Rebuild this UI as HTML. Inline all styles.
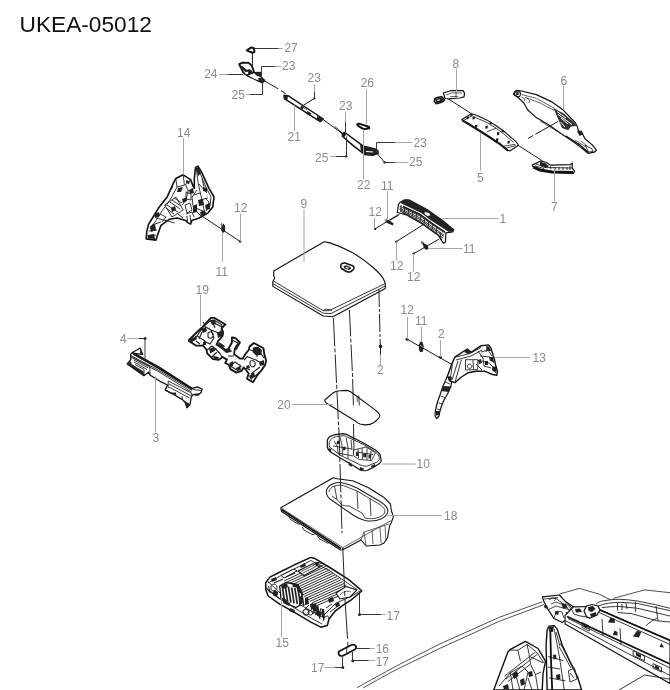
<!DOCTYPE html>
<html><head><meta charset="utf-8">
<style>
html,body{margin:0;padding:0;background:#fff;width:670px;height:690px;overflow:hidden}
svg{display:block;position:absolute;left:0;top:0;will-change:transform}
text{font-family:"Liberation Sans",sans-serif}
.t{font-size:12px;fill:#8a8a8a}
.ttl{font-size:22.7px;fill:#111}
.l{stroke:#a6a6a6;stroke-width:1;fill:none}
.k{stroke:#1a1a1a;stroke-width:1;fill:none}
.p{stroke:#111;stroke-width:1.3;fill:#fff;stroke-linejoin:round}
.q{stroke:#222;stroke-width:0.7;fill:none}
.f{fill:#222;stroke:none}
.dot{fill:#222}
</style></head><body>
<svg width="670" height="690" viewBox="0 0 670 690">
<text class="ttl" x="19.5" y="31.6">UKEA-05012</text>

<!-- ===== LABELS ===== -->
<g class="t">
<text x="284.4" y="52.1">27</text>
<text x="282" y="70.4">23</text>
<text x="204.2" y="78.4">24</text>
<text x="231.6" y="98.5">25</text>
<text x="307.5" y="82.1">23</text>
<text x="287.5" y="140.5">21</text>
<text x="360.7" y="86.9">26</text>
<text x="339" y="109.6">23</text>
<text x="315" y="161.5">25</text>
<text x="357" y="188.8">22</text>
<text x="413.5" y="146.6">23</text>
<text x="409" y="166.3">25</text>
<text x="381" y="189.8">11</text>
<text x="452.5" y="67.5">8</text>
<text x="560.4" y="84.6">6</text>
<text x="477" y="182">5</text>
<text x="551" y="210.5">7</text>
<text x="499.5" y="223.3">1</text>
<text x="368.5" y="215.8">12</text>
<text x="390" y="269.8">12</text>
<text x="407" y="280.8">12</text>
<text x="463" y="253.3">11</text>
<text x="177.1" y="136.6">14</text>
<text x="234" y="211.9">12</text>
<text x="215.5" y="275.5">11</text>
<text x="300.5" y="208.3">9</text>
<text x="195.5" y="294">19</text>
<text x="120" y="342.5">4</text>
<text x="152.5" y="441.8">3</text>
<text x="377" y="374.2">2</text>
<text x="277.3" y="409.3">20</text>
<text x="400.5" y="314.2">12</text>
<text x="415" y="325.2">11</text>
<text x="438" y="338">2</text>
<text x="532.5" y="362.2">13</text>
<text x="416.5" y="468">10</text>
<text x="444" y="520.1">18</text>
<text x="275.5" y="646.6">15</text>
<text x="386.5" y="619.8">17</text>
<text x="375.7" y="653.2">16</text>
<text x="375.7" y="666.4">17</text>
<text x="311" y="672.1">17</text>
</g>




<!-- ===== TOP CABLE ASSEMBLY (27,24,23,25,21,26,22) ===== -->
<g>
<!-- 27 cap -->
<path style="fill:#fff;stroke:#111;stroke-width:2;stroke-linejoin:round" d="M246.8 50.3 L251 47.5 L254 48.3 L254.4 51.8 L252.6 52.8 L249 51.4Z"/>
<path class="k" d="M252.4 53V67"/>
<!-- 24 bracket -->
<path style="fill:#fff;stroke:#111;stroke-width:1.8;stroke-linejoin:round" d="M239.2 64.1 L242.6 62.6 L248.7 62.8 L251.2 65.1 L252.8 68.2 L253.8 71.2 L253.3 73.2 L249.2 75.3 L245.1 74.2 L243.1 72.2 L241.1 68.2Z"/>
<path class="f" d="M240.5 65 L243 66.5 L247 70 L249 69 L252 70.5 L252.5 73 L249 74.5 L246 72.5 L243 70Z"/>
<path style="fill:#fff;stroke:none" d="M244.2 64.8 L247.5 64.6 L247.7 66.8 L244.5 67Z M245.2 72 L248 71.8 L248.2 74 L245.5 74.2Z"/>
<path style="fill:#fff;stroke:#111;stroke-width:1.3;stroke-linejoin:round" d="M246.2 75.3 L249 74.3 L253.8 72.7 L260.4 72.3 L261.6 77.5 L264.5 80.5 L262.4 82.9Z"/>
<path class="f" d="M253.8 72.7 L260.4 72.3 L261.4 77.3 L257 76Z M258 78 L262 77.5 L265.5 80.5 L262.5 83 L259 81Z"/>
<path style="stroke:#fff;stroke-width:1.3;fill:none" d="M250.5 76 L257 79.2"/>
<!-- cable -->
<path class="k" d="M262 79.5 L278.3 88.9 M281 90.6 L285.5 93.5"/>
<!-- 21 bar -->
<path class="p" style="stroke-width:1.4" d="M284 95.3 L288 95.7 L323.3 119 L320.2 121.7 L287.5 100.7 L284.4 98.9Z"/>
<path class="f" d="M284 95.3 L288 95.7 L287.3 100.5 L284.4 98.9Z"/>
<path class="f" d="M317.5 115.8 L323.3 119 L320.2 121.7 L316.5 119.3Z"/>
<path class="f" d="M301.5 105.5 L304 107.2 L302.5 109.5 L300 108Z M307.5 111 L311.5 113.5 L310 116 L306 113.5Z"/>
<path class="q" d="M303 107.5 L307 110"/>
<path class="k" d="M323 119.5 L342.2 133.4"/>
<path class="k" d="M314.5 98.4 L303.6 105.1"/>
<circle class="dot" cx="314.4" cy="98.4" r="1.1"/>
<!-- 26 -->
<path style="fill:#fff;stroke:#111;stroke-width:2;stroke-linejoin:round" d="M357.2 124.4 L358.9 123.6 L368.8 126.7 L369.2 128.3 L363.6 129.2 L358.5 126.2Z"/>

<!-- 22 bar -->
<path class="p" style="stroke-width:1.5" d="M342.2 133.4 L344.8 132.5 L363.6 146.3 L375.3 149 L378 150.8 L378 153.5 L372.6 155.3 L364.5 154.4 L361 151.7 L352.9 145.4 L342.6 136.5Z"/>
<path class="f" d="M342.2 133.4 L344.8 132.5 L346.5 134 L344 137.5 L342.6 136.5Z"/>
<path class="f" d="M360 145 L366 147 L376 149.5 L378 153.5 L372.6 155.3 L364.5 154.4 L361 151.7Z"/>
<path class="q" d="M368 151 L374 151.5"/>
<path style="stroke:#fff;stroke-width:1.2;fill:none" d="M366 151.5 L373 152"/>


<circle class="dot" cx="346.2" cy="156.2" r="1.2"/>

<path class="k" d="M377 153.5 L384.7 162.5"/>
<circle class="dot" cx="384.7" cy="162.4" r="1.2"/>
<path class="k" d="M335 126.6 L342.2 133.4"/>
</g>


<!-- ===== PARTS 8,5,7,6 ===== -->
<g>
<!-- 8 -->
<path class="p" style="stroke-width:1.2" d="M443.4 93 L450.6 90.7 L463.1 90.6 L464.6 93.4 L464 96.8 L459.5 98 L448.8 98.9 L445 98.5Z"/>
<path class="q" d="M446 95 L452 92.8 L462 93 M450 96.5 L458 96.5 M456 92 V97"/>
<path class="p" style="stroke-width:1.5" d="M434.5 98.8 L437.2 97.4 L441.8 96.8 L444.5 99.8 L443.5 101.2 L440.7 102.5 L436.3 103.8 L434.5 101.6Z"/>
<path class="f" d="M435 99 L441 97.5 L444 100 L440 102.4 L436.5 103.5Z"/>
<path style="stroke:#fff;stroke-width:1;fill:none" d="M437 100.3 L440 99.8"/>
<path class="k" d="M448.8 99.2 L471.6 113.8"/>
<!-- 5 -->
<path class="p" style="stroke-width:1.1" d="M461.8 119.5 L471.4 113.7 L477.1 115.6 L486.7 119.9 L496.2 125.7 L505.8 132.8 L512.4 138.6 L515.3 141 L518.2 144.3 L517.2 146.2 L509.6 151 L507.7 150 L501 144.3 L486.7 134.7 L472.3 125.7Z"/>
<path style="stroke:#111;stroke-width:1.9;fill:none" d="M462 120.3 L472.3 126.5 L486.7 135.5 L501 145 L508 150.8"/>
<path class="q" style="stroke-width:0.85" d="M473.3 116.6 L486 122 L496 128 L505 135 L513.4 142.4 M463.7 120.4 L472.3 115.6 M486.7 131.9 L496.2 128.1 M503.8 146.2 L515.3 144.3 M505 148.5 L516 145.5"/>
<path class="f" d="M472.5 116.5 L475 116.8 L474.5 119.5 L472.5 119.3Z M475 125 L477.5 124.8 L477 127.8 L475 127.6Z M485.3 126 L488 125.5 L487.5 128.5 L485.5 128.8Z M497 132.3 L499.5 132 L499 135 L497 135.2Z M496 138.5 L498.5 138.2 L498 141.2 L496 141.3Z M507.5 141 L510 140.7 L509.5 143.5 L507.5 143.8Z M470.5 114 L473 113.8 L472.5 116 L470.5 116.2Z M466.5 117 L469 116.5 L468.5 119 L466.5 119.2Z M490 121.5 L492 122.5 L491.5 124.5 L489.5 124Z M502 129.5 L504 130.5 L503.5 132.5 L501.5 132Z"/>
<path class="k" d="M518 145.2 L541.6 160.4"/>
<!-- 7 -->
<path class="p" style="stroke-width:1.2" d="M532.2 165.1 L541.1 160.9 L546.3 162.5 L550.5 165.1 L570.4 164.6 L572.5 163 L572 167.7 L574.6 171.3 L573.5 173.4 L551.6 172 L539 169.4 L532.8 166.6Z"/>
<path style="stroke:#111;stroke-width:3;fill:none" d="M533.5 167.2 L540 170 L552 172 L573 172.5"/>
<path class="q" style="stroke-width:0.9" d="M536 164 L545 167.5 L572 168 M541 162 L547 167.5 M544 163 L548 167 M535 166 L544 168.5 M555 167 V170 M559 167 V170 M563 167 V170 M567 167 V170 M570 166 V170 M550 166 L551 169"/>
<path class="f" d="M540 162 L545 163 L549 166 L546 167.5 L540 165.5Z"/>
<!-- 6 -->
<path class="p" style="stroke-width:1.2" d="M513.4 94.1 L516.5 90.4 L521.7 91 L536.3 94.6 L552 101.9 L563.5 110.3 L575.5 123 L577.6 127.2 L578.7 132.4 L582.8 134.5 L585 138.7 L592.2 144.9 L596.4 150.2 L594.3 152.2 L588 153.3 L581.8 148 L573.4 141.8 L560.9 133.4 L548.9 124.9 L536.3 117.6 L528 110.3 L523.8 103 L519.6 98.8Z"/>
<path class="q" d="M521.7 94.6 L536.3 98.3 L554.1 108.2 L570 120 M524.9 97.2 L540 103 L554.1 110.3 M560.9 133.4 L540 121"/>
<path style="fill:none;stroke:#111;stroke-width:1.2" d="M514 93.5 C514.5 91.5 516.5 90.5 518.5 91 C520.5 91.8 521 94 520 95.8 C518.5 97.5 515.5 97 514 93.5Z"/>
<path class="f" d="M515.5 92.5 L518.5 92 L519 94.5 L516.5 95.5Z"/>
<path class="q" d="M521.5 97 L525 99 L524 101.5 M527 98 L530 101 L528.5 103"/>
<path class="f" d="M553.6 108.4 L563 113 L574 122.5 L576.6 126.1 L571 126.5 L568.2 130.3 L562 128 L559 121 L556 114Z" style="fill:#333"/>
<path style="stroke:#fff;stroke-width:1;fill:none" d="M558 114.5 L572 124.5 M560.5 122 L565 127 M557 111.5 L566 118 M561 118 L568 124"/>
<path class="f" d="M577 131 L581.5 130.5 L583.5 134 L579.5 136Z"/>
<path class="q" d="M575 140 L590 149.5 M581 141 L587 146"/>
<path style="stroke:#111;stroke-width:1.3;fill:none" d="M566 136 L580 145 L588.5 152.5"/>
<path style="fill:#fff;stroke:#111;stroke-width:0.8" d="M585 145 L592 149 L593 151.5 L588.5 152 Z"/>
<path class="k" d="M528 138.5 L533.2 135.4 M535.3 134.3 L558.3 121.3"/>

</g>


<!-- ===== PART 1 + clips ===== -->
<g>
<path class="p" style="stroke-width:1.2" d="M399.9 202.5 L404.6 199.9 L408.8 199.9 L426.6 209.3 L442.2 220.3 L453.7 229.7 L452.7 231.8 L445.9 232.8 L445.4 242.2 L443.3 243.3 L438 235 L422.4 224 L405.7 214.6 L397.3 212.5 L398.4 204.6Z"/>
<path class="f" d="M399.9 202.5 L404.6 199.9 L408.8 199.9 L426.6 209.3 L442.2 220.3 L453.7 229.7 L452.7 231.8 L448.5 231.8 L430.8 220.3 L421.3 213 L403.6 204.6Z"/>
<path style="fill:#fff;stroke:#111;stroke-width:0.7" d="M424.5 211.5 L429 212.5 L431 215.5 L427.5 216.5 L424 214Z"/>
<path class="q" style="stroke-width:0.9" d="M400 206.5 L420 216 L437 228 L445 233 M399.5 208 L419 217.5 L436 229.5 L444 235 M399.5 209.5 L419 219 L436 231 L444 236.5 M400 211 L418 220.5 L434 232.5 L443 238 M403 212.5 L421 222 L437 233.5 L442 240 M401 205 V211.5 M440 232 L441 240 M405 207 L404 213 M409 209 L408 215 M413 211 L412 217 M417 213 L416 219 M421 215 L420 221 M425 218 L424 224 M429 221 L428 227 M433 224 L432 230 M437 227 L436 233"/>
<path style="stroke:#111;stroke-width:1.5;fill:none" d="M403 206.5 L420 214.5 L433 224 L445 232"/>
<path class="k" d="M390 220.3 L399.4 214.6"/>
<!-- clip 11 upper -->
<path style="fill:#999;stroke:none" d="M384.7 219 L387.7 218.7 L387.8 222.5 L384.9 223Z"/>
<path class="f" d="M386 220.8 L388.5 219.8 L393.6 223.6 L393 225.6 L387.5 223.2Z"/>
<path class="k" d="M375.1 228.9 L398.4 214.6"/>
<circle class="dot" cx="375.1" cy="228.9" r="1.2"/>
<!-- 12 middle -->
<path class="k" d="M396.3 241.7 L423.4 224.5"/>
<circle class="dot" cx="396.3" cy="241.7" r="1.2"/>
<!-- clip 11 lower -->
<path class="f" d="M420.8 242.3 L422.8 241.4 L424.6 243.8 L427.8 245.2 L428.6 248.8 L426.5 250 L424 248.3 L423 245Z"/>
<path style="fill:#888;stroke:none" d="M420.5 241.5 L422.5 240.8 L423.5 243 L421.5 243.8Z"/>
<path class="k" d="M413.7 253.6 L439.1 239.1"/>
<circle class="dot" cx="413.7" cy="253.6" r="1.2"/>
</g>


<!-- ===== PART 14 ===== -->
<g>
<path class="p" style="stroke-width:1.6" d="M175.8 178.5 L183.2 174.8 L190.6 179.7 L193 185.9 L194.3 188.4 L194.3 178.5 L195.5 167.4 L198 166.2 L201.7 172.3 L209 188.4 L214 197 L212.8 206.9 L207.8 213 L199.2 218 L191.8 220.4 L190.6 224.1 L188.1 222.9 L185.6 220.4 L177 218 L169.6 219.2 L161 225.3 L157.9 234 L156 240.1 L146.2 238.9 L146.8 231.5 L148.6 224.1 L151.7 219.2 L158.5 208.1 L167.1 197 L173.3 183.4Z"/>
<g class="q" style="stroke-width:0.9">
<path d="M175.8 178.5 L177 187.1 L185.6 184.7 L190.6 179.7 M183.2 174.8 L184.4 184.7 M185.6 184.7 L188.1 190.8 L193 190 M177 187.1 L169.6 200.7 L162.2 210.6 L156 220.4 L150 229 M173 186 L166 199 M188 191 L186 200 L182 205"/>
<path d="M164.7 205 L176 197 L183.2 210 L172 217 Z M167 205 L178 212 M170 202 L180 209 M172 200 L181 206 M174 198 L182 203 M166 208 L174 214"/>
<path d="M156 218 L174.5 222.9 M152 225 L161 222 M149 231 L157 230 M150 236 L156 235 M160 214 L166 217 L162 222"/>
<path d="M196.3 168 L198 182.4 L201.5 198 L204.1 210.2 M198.5 169 L205 185 L211 197 L210 206 L206 211 M199 184 L207 193 M197 190 L192 197 L193 206 L197 212 L201 216 M205 198 L209 202 L207 209 M202 178 L204 187 M194 195 L200 193 M200 200 L208 198 M196 208 L205 212"/>
<path d="M186 192 L191 194 L191 200 L186 199 Z M185 205 L190 203 L192 210 L187 213Z M186 214 L192 212 L194 217 M190 215 L191 223 M187 216 L187.5 222 M178 214 L183 218"/>
</g>
<path class="f" d="M196 168 L198.5 167 L201 173 L198 176Z M150 226 L155 224 L156 230 L151 232Z M147.5 235 L154 234 L155 239 L148 238.5Z M182 199 L186.5 197.5 L187 201 L183 203Z M198 200 L203 199 L204 205 L199 206Z M193 206 L197 204 L197 212 L193 213Z M186 180 L190 181.5 L189 184 L186 183Z M171 208 L175 206 L176 210 L172 212Z M205 205 L210 203 L210 209 L206 210Z M189 190 L193 188 L194 193 L190 194Z M154 214 L159 212 L160 216 L155 218Z M178 188 L183 187 L181 192 L177 192Z M200 212 L205 210 L206 214 L201 216Z M203 187 L207 188 L207 192 L203 191Z"/>
<path class="k" d="M202.9 216.7 L240.2 241.5"/>
<circle class="dot" cx="240.2" cy="241.5" r="1.2"/>
<path class="f" d="M221.4 226 L223.5 223.6 L225.1 226 L225 231.5 L223 233 L221.4 231Z"/>
<path style="fill:#777;stroke:none" d="M220.5 224 L222 222.5 L222.5 226 L221 227Z"/>
</g>


<!-- ===== PART 9 LID + vertical lines ===== -->
<g>
<path class="p" style="stroke-width:1.1" d="M273.7 270.9 L324.2 241.8 L329 242.6 C337 245 345 248.5 352.3 252.5 C360 257 367 262 373.7 268 C378 272 381.5 275.5 383.4 278.7 L385.3 283.5 L385.3 288.4 L332.9 316.8 L323.2 316 L272.8 286.4 L272.8 281.6 L274.8 278 L273.7 275.7Z"/>
<path class="q" style="stroke-width:0.9" d="M273.5 281 L323.2 310.7 L329 310.7 L385.3 283.5 M272.8 283.5 L323.2 313.2 L331 313.5 L385.3 286"/>
<path class="q" style="stroke-width:0.8" d="M323.2 310.7 L325 309.3 L330 309.5 L332 311"/>
<path class="p" style="stroke-width:1.5" d="M340.8 265.5 C341 263.5 343 262.8 345 263 L352.5 265.8 C354.5 266.7 354.5 268.5 353 269.8 L350.5 271.8 C349 272.3 347.5 272 346.5 271.5 L341.5 268.5 C340.5 267.5 340.5 266.5 340.8 265.5Z"/>
<path class="f" d="M343.5 267 C344 265.5 346 265.3 347.5 265.8 L350.5 267.2 C351.5 267.8 351 269 349.8 269.6 L348.5 270 L344.5 268.5Z"/>
<path style="fill:#fff;stroke:none" d="M346 266.8 L349 267.8 L348 268.7 L345.5 267.8Z"/>
</g>
<!-- ===== PART 20 ===== -->
<g>
<path class="p" style="stroke-width:1.1;fill:none" d="M327 403.5 C324 401.5 324 400 326.5 398.5 L333 393 C335 391.5 337 390.8 340 390.8 L346.4 390.4 C348 390.5 349.5 391 351 392 L374.8 409.6 L378.5 413 C380.5 415 380 417.5 377.5 419.5 L374 422.5 C371 424.5 368 425 364.7 424.9 L360 424 C358 423.5 357 422.5 356.5 421.8 Z"/>
<path class="k" style="stroke-width:0.9" d="M358.8 395.5 L359.3 405.5"/>
<path class="k" style="stroke-width:0.7" d="M357 397 L357.4 402"/>
</g>
<!-- ===== PART 10 ===== -->
<g>
<path class="p" style="stroke-width:1.2" d="M327.3 440.4 C328 437 331 435.5 335.4 434.7 L343 433.7 C346 434 348 435 349.7 436.1 L362.1 442.3 L375.5 450 C378 452 380 454 380.3 455.7 L381.2 460.5 C381 462 380 463.5 378.4 464.3 L371.7 468.1 L366.9 470.5 C364 471 362 470.8 360.2 470 L354.5 466.2 L341.1 458.6 L330.6 451.9 C328 450 327.3 448 327.3 446.1Z"/>
<path class="q" style="stroke-width:0.9" d="M329.6 441.4 C330.5 439 333 437.3 336.3 436.6 L344 435.6 L363 444.2 L375.5 451.9 C378 454 379.3 456 379.3 458.6 C379 460.5 378 461.5 376.4 462.4 L366.9 466.2 C363 466 361 465.3 359.2 464.3 L341.1 455.7 L329.6 447.1 C329 445 329 443 329.6 441.4Z"/>
<path class="q" style="stroke-width:0.85" d="M353.5 450 L366 447 L375.5 452.8 L371.7 460.5 L359.2 459.5 L353.5 455.7 Z M358 449 L358.5 458 M362 448 L362.5 459 M367 448.5 L367 460 M371 451 L370.5 460 M356 452 L373 454.5 M334 441 L337.5 447 L338 453 M340 437 L342 445 L342.5 456 M346 438 L348 447 L348 459 M351 440 L352 450 M333 446 L352 449 M338 453 L353 456"/>
<path class="f" d="M329 448 L331.5 449.5 L331 451.5 L328.5 450Z M349 462 L352 464 L351.5 467 L348.5 465Z M360 467 L364 468.5 L363 471 L360 470Z M371 466 L375 464 L375.5 467 L372 468.5Z M337 441 L339.5 440.5 L339 444 L336.5 444.5Z M343 447 L345.5 446.5 L345.5 450 L343 450.5Z M363 454 L366 453 L366.5 457 L363.5 457.5Z M368.5 455 L371 454.5 L371 458 L368.5 458.5Z M356 452.5 L358.5 452 L358.5 456 L356 456Z"/>
</g>


<!-- ===== PART 18 ===== -->
<g>
<path class="p" style="stroke-width:1.1" d="M280.8 507.8 L333.2 477.8 L337.1 478.7 L352.6 480.7 L368.1 487.5 L383.7 497.2 L390.4 504 L391.4 510.7 L393.4 516.6 L391.4 522.4 L389.5 526.3 L387.5 537.9 L384 543 L379.8 545 L366.2 546 L361 540 L342.9 549.8 L340.5 550 L281.5 511.5Z"/>
<path class="q" d="M280.8 507.8 L342.9 547.6 L391.4 520.4 M342.9 547.6 V550"/>
<path style="stroke:#111;stroke-width:1.6;fill:none" d="M281.5 509.5 L341 548.5"/>
<path class="q" style="stroke-width:0.9" d="M289 517 L290.5 519.5 L298 524 L300 524 M302 527 L304 530 L312 534.5 L314.5 534.5 M317.5 536 L319 538.5 L327 543 L329 543"/>
<path class="q" style="stroke-width:1.1" d="M326.4 492 C326 489 329 485.5 333 483.8 C336 482.6 339 482.3 342 482.8 C347 483.7 352 485.5 357 488 L380 501.5 C385 504.5 388 508 387.8 511.5 C387.5 514.5 385 517 381 519 C377 520.8 371 521.5 365 520.5 C361 519.5 357 517.5 353 515 L330 499 C327.5 497 326.5 494.5 326.4 492Z"/>
<path class="q" style="stroke-width:0.85" d="M329 492 C329 489.5 331.5 487 334.5 486 C337.5 485 341 485 344 485.8 L357 491 L379 504 C383 506.5 385 509 384.8 511.5 C384.5 514 382 516 378.5 517.5 C374 519 369 519 365 518 M332 496 L337 499.5 L341 504 C343 506 346 506 349 506 L362 513 L365 518 M334.5 486 L337 499.5 M357 491 L358 509 M370 498 L371 516"/>
<path class="q" d="M361 540 L364 532 L389 524 M364 532 L366 545 M372 530 L373 544 M380 527 L381 543 M385 526 L386 541"/>
</g>


<!-- ===== PART 15 ===== -->
<g>
<path class="p" style="stroke-width:1.5" d="M265.7 582.8 L269.9 577.1 L278 573 L294.5 564.8 L310.9 557.4 L314.2 558.2 L330.6 568 L348.7 579.6 L358.5 587.8 L361.8 591 L352 599.3 L342.1 605.8 L335.5 610.8 L329 619 L327.3 625.5 L320.8 627.2 L310.9 622.2 L294.5 612.4 L279.7 604.2 L268.2 596 L265.7 589.4Z"/>
<path class="q" style="stroke-width:0.9" d="M268 583 L279 576.5 L296 568 L311 560.5 L330 571 L357 589.5 M267.5 590 L280 599 L310 617.5 L322 624 M268 581.5 L281 594 L322 617 L327 612 L336 603 L352 596 L360 591"/>
<path class="q" style="stroke-width:0.95" d="M284.0 581.0 L322.0 563.0 M286.0 582.6 L323.9 564.7 M288.0 584.1 L325.8 566.4 M290.0 585.7 L327.6 568.1 M292.0 587.2 L329.5 569.8 M294.0 588.8 L331.4 571.4 M296.0 590.4 L333.2 573.1 M298.0 591.9 L335.1 574.8 M300.0 593.5 L337.0 576.5 M302.0 595.1 L338.9 578.2 M304.0 596.6 L340.8 579.9 M306.0 598.2 L342.6 581.6 M308.0 599.8 L344.5 583.2 M310.0 601.3 L346.4 584.9 M312.0 602.9 L348.2 586.6 M314.0 604.4 L350.1 588.3 M316.0 606.0 L352.0 590.0"/>
<path style="fill:#fff;stroke:#111;stroke-width:1.1" d="M336 593 L346 586.5 L357 590 L350 597 L340 599Z"/>
<path class="q" d="M340 595 C342 592 347 590 351 592"/>
<path style="fill:#fff;stroke:#111;stroke-width:1.1" d="M298 571 L313 563.5 L320 567 L304 575.5Z"/>
<path class="q" style="stroke-width:0.8" d="M301 571.5 L314 565 M303 573 L317 566"/>
<path style="fill:#fff;stroke:#111;stroke-width:1" d="M281 575.5 L294 569 L297 571 L284 578Z"/>
<path style="fill:#fff;stroke:#111;stroke-width:1.3" d="M279.7 586 L286 582.5 L298 584.5 L302.7 595 L300 605 L296 607.5 L287 603.5 L281 599Z"/>
<path class="q" style="stroke-width:1.7" d="M282.0 585.0 L284.5 601.0 M285.2 585.8 L287.7 601.8 M288.4 586.6 L290.9 602.6 M291.6 587.4 L294.1 603.4 M294.8 588.2 L297.3 604.2 M298.0 589.0 L300.5 605.0 M301.2 589.8 L303.7 605.8"/>
<path class="f" d="M281 597 L287 600 L286 603.5 L281 600Z M296 586 L301 588 L302 594 L298 592Z"/>
<path class="q" style="stroke-width:1" d="M271 585.5 C273 583 277 584 277 587.5 C277 591 273 592 271 589.5Z M268.5 586 L270 593 M305 609 L309 605 M313 614 L316 606 L318 606 L316 615 M319 615 L321 608 M323 621 C324 616 329 614 329 619 M308 612 C310 609 313 611 312.5 614 C311 616 308 615 308 612Z M326 608 L332 604 M330 612 L338 606"/>
<path class="f" d="M271 579 L276 577 L277 580 L272 582Z M300 566 L305 563 L306 566 L301 568Z M314 562 L320 562 L317 566Z M305 598 L308 597 L309 604 L305 605Z M313 604 L316 603 L317 611 L313 611Z M328 599 L333 597 L334 601 L329 603Z M335 604 L339 602 L340 606 L336 607Z M274 590 L278 592 L277 596 L273 594Z M290 608 L295 610 L294 613 L289 611Z M318 611 L322 612 L321 617 L317 616Z"/>
<path class="f" d="M282 585 L287 583 L288 587 L283 589Z M292 583.5 L298 584.5 L299 588 L293 587Z M299 597 L302 596 L302 604 L299 605Z M284 600 L290 603 L289 606 L283 603Z"/>
<path class="q" style="stroke-width:1.1" d="M266 588 L280 599 M303 611 C305 608 309 609 309 612.5 C308.5 616 304 616 303 612Z M318 612 L320 619 M322 613 L324 620 M314 608 L316 615 M274 583 L283 579 M286 577 L295 573 M273 593 C274 590.5 277.5 591 277.5 594 C277 596.5 273.5 596.5 273 593.5Z"/>
<path class="f" d="M316 607 L318.5 606.5 L320 615 L317.5 615.5Z M321.5 609 L324 609 L325 618 L322.5 618Z M310 604 L313 603 L314 609 L311 610Z"/>
<circle class="dot" cx="359.5" cy="614.5" r="1.5"/>
</g>
<!-- vertical center lines lower -->


<!-- ===== PART 16 ===== -->
<g>
<path style="fill:none;stroke:#111;stroke-width:1.7;stroke-linejoin:round" d="M339.3 651.2 L350.8 645.2 C352.8 644.3 354.8 644.6 355.8 646 C356.6 647.2 356.2 648.5 354.8 649.5 L343.6 655.4 C341.6 656.3 339.8 656 339 654.8 C338.3 653.6 338.5 652 339.3 651.2Z"/>
<path class="k" style="stroke-width:0.8" d="M347 646.5 L346.5 653"/>

<circle class="dot" cx="342.8" cy="667.4" r="1.5"/>
<circle class="dot" cx="352.8" cy="660.7" r="1.5"/>
</g>


<!-- ===== PART 19 ===== -->
<g>
<path class="p" style="stroke-width:1.8" d="M188.9 340 L201.4 328 L210.9 317.9 L214.5 317.9 L225.4 324.4 L223.2 326.6 L221.7 328.8 L223.2 332.4 L222.5 336 L218.1 341.1 L216.7 344.7 L219.6 346.2 L225.4 349.8 L228.3 349.1 L231.9 342.5 L231.9 337.5 L235.5 338.2 L239.9 342.5 L237.7 346.2 L234.8 349.1 L234.1 354.1 L239.9 358.5 L242.6 358.7 L245.2 354.3 L248.7 350 L249.6 346.5 L253.9 343 L263.5 348.3 L264.3 354.3 L266.1 360.4 L265.2 364.8 L261.7 370 L257.4 375.2 L253 382.2 L247 378.7 L248.7 373.5 L245.2 369 L243.5 367.4 L241.7 370.9 L236.5 372.6 L230.4 369.1 L229 365 L225.2 363 L227 359.6 L222.5 357 L218.8 359.9 L213 359.2 L207.2 353.4 L206.5 349.8 L203.3 345.7 L196.3 345.7 L188.9 340.9Z"/>
<g class="q" style="stroke-width:1.1">
<path d="M191 340 L197 336 L205 341 L203 345 M197 336 L204 326 L210 321 L222 327 M204 326 L211 330 L214 338 L210 344 L206 342 M211 330 L219 333 L221 331 M214 320 L222 325 L221 331 M208 333 C210 331 214 332 213 336 C212 339 208 339 208 336Z M199 339 L202 332 M196 341 L200 344 M205 325 L203 322 M212 320 L215 328"/>
<path d="M207 350 L212 346 L219 352 L222 357 M210 353 L216 349 L220 354 M212 357 L217 352"/>
<path d="M232 340 L238 343 L235 348 M216 344 L226 352 L232 351 M230 366 L235 362 L241 366 L237 370Z M228 356 L234 356"/>
<path d="M250 350 L260 352 L264 358 M248 357 L256 360 L263 364 M250 362 C252 359 256 361 255 365 C254 368 250 367 250 364Z M251 374 L260 367 M254 377 L262 370 M244 360 L248 356 M256 356 L258 356 M246 368 L250 370"/>
</g>
<path class="f" d="M253 347.5 L258 346.5 L262 350 L261 355 L256 355.5 L252.5 352Z M234 349 L236 345 L239 344 L237 350Z M210 320 L215 319.5 L216 324 L212 325Z M189.5 340.5 L196 336 L197 339 L192 342Z M209 349 L214 347 L215 351 L210 352Z M229.5 363 L233 361 L233 366 L230 367Z M249 376 L254 372 L255 376 L251 380Z M246 366 L249 365 L250 368 L247 369Z M213 356 L219 357 L218 360 L214 359Z M201 329 L206 327 L207 331 L203 333Z M217 333 L222 331 L222 336 L218 338Z M219 342 L225 346 L223 348 L218 345Z M224 350 L230 348 L231 352 L226 353Z M236 368 L240 366 L241 370 L237 371Z M259 362 L264 360 L264 365 L260 366Z M203 342 L206 341 L206 345 L203 345Z"/>
</g>


<!-- ===== PART 3 ===== -->
<g>
<path class="p" style="stroke-width:1.3" d="M130.7 354 L133.1 352.5 L160 367.5 L192.1 388.4 L197.3 386.9 L202.2 389.1 L201 392.8 L197.3 395.1 L193.2 394.3 L191.3 397 L189.9 404.8 L186.9 407.8 L185.4 402.5 L182.4 399.6 L175.7 395.8 L174.9 393.6 L170.4 392.8 L165.2 389.9 L166 388.4 L167.5 385 L160 381.3 L149.9 375 L148.7 372.2 L143.9 375.8 L127.2 363.9 L130.7 359.7Z"/>
<path class="p" style="stroke-width:1.1" d="M131.9 352.8 L140.3 348.1 L142.7 354.6Z"/>
<path class="f" d="M140.3 348.1 L142.7 354.6 L140 353.5Z"/>
<g class="q" style="stroke-width:0.9">
<path d="M130.7 355.5 L160 371 L192.1 390.5 M131 357 L160 372.5 L191.5 392 M130.7 359.7 L131 356 M133.1 357.9 L149.9 366.3 L149.9 375 M133.7 360 L148 367.8 M134 362 L147 369.5 M135 364.5 L144 369.5 L144 375.5 M168.2 380.9 L168.2 388 M168.2 380.9 L191.3 393 L191.3 397 M169 384 L190.5 395.5 M169 387 L189.5 398 M175 392 L176 395.5 M182 396 L182.5 399.5 M193 389.5 L201.5 390.5"/>
</g>
<path style="stroke:#111;stroke-width:1.7;fill:none" d="M133 353.8 L160 369 L192.5 389.3"/>
<path class="f" d="M127.5 364 L131 361 L131.5 364 L143.5 371.5 L144 375.5Z M165.5 389.5 L175.5 394.5 L175 396 L165 390.8Z M183 400 L189.5 403.8 L187 407.5 Z M194 393.8 L199.5 393.2 L199.5 395.3 L195 395.5Z"/>
</g>


<!-- ===== PART 13 ===== -->
<g>
<path class="k" d="M407 339.2 L452 364.5"/>
<circle class="dot" cx="407" cy="339.2" r="1.5"/>
<circle class="dot" cx="440.4" cy="357.2" r="1.5"/>
<path class="f" d="M418.9 344.5 L420.5 341.6 L422.5 342 L423.7 346 L423 351.5 L420 352.3 L418.9 349Z"/>
<path style="stroke:#fff;stroke-width:0.7;fill:none" d="M420.3 345 L422 347"/>
<!-- rod -->
<path class="p" style="stroke-width:1.2" d="M447.5 376.1 L452 378 L451 386 L448 393 L444 400 L441.5 406 L440 411 L439 416 L436.8 418.5 L435 416 L435.5 410 L437.5 402 L440 395 L443 386Z"/>
<path class="q" style="stroke-width:0.85" d="M442 389 L449 391 M440.5 396 L446 398 M438.5 403 L443 404 M437 409 L441 410 M445 382 L450 384"/>
<path class="f" d="M443 386 L451 386.5 L449 392 L441 391Z M436 411 L440 411 L439.5 415 L436 415.5Z"/>
<!-- body -->
<path class="p" style="stroke-width:1.4" d="M454.9 357.2 L467.2 349 L471.3 352.3 L481.1 345.7 L488.5 344.9 L491 348.2 L494.3 358.9 L495.9 366.3 L497.5 371.2 L496.7 375.3 L492.6 374.5 L484.4 371.2 L476.2 371.2 L468 372.8 L461.4 377 L454.9 382.7 L449.9 381 L447.5 376.1 L451.6 364.6Z"/>
<g class="q" style="stroke-width:0.9">
<path d="M454.9 357.2 L470 353.5 L481 347.5 M456 360 L471 356 L482 350 M452.4 364.6 L449.9 381 M461.4 359.7 L454.9 382.7 M458 361 L452 380"/>
<path d="M465.5 359.7 L477.8 359.7 L477.8 369.6 L465.5 370 Z M473 360 L473.5 369.5 M467.2 366 C467.5 363.5 471.5 363.5 472 366 C472 369 467.5 369.5 467.2 366Z"/>
<path d="M481 352 L488 350 L492 356 M480 356 L490 357 L494 363 M482 361 L489 363 L495 369 M484 366 L491 368 M488 346 L486 352 M478 351 L483 358 L484 366 M492 368 L496 373 M476 364 L482 370"/>
</g>
<path class="f" d="M467.2 349 L471.3 352.3 L468 354 L464 352Z M486 346 L490 347.5 L491 351 L487 351Z M489 357 L493 357 L494 362 L490 361Z M492 366 L496 367 L496.5 372 L492.5 371Z M448.5 376 L452 377 L451 381.5 L448.5 380.5Z M478 360 L481 359 L482 363 L479 364Z M485 361 L488 361 L488 365 L485 365Z"/>
</g>


<!-- ===== CAR BODY (bottom right) ===== -->
<g>
<!-- long diagonal double line -->
<path style="fill:none;stroke:#333;stroke-width:0.85" d="M357.2 687.6 C380 675 395 666.5 410 659 L440 643.9 L500 617 L542.4 601.8 M363 688 C385 675.5 397 669 410 663 L440 648.3 L500 621 L543.8 604.6"/>
<!-- roof outline -->
<path class="q" style="stroke-width:0.8" d="M559.4 594.1 L579.3 588.4 L599.1 594.1 L610.5 599.8 M613.3 598.4 L644.5 589.9 L670 592.7"/>
<!-- seat frame arcs -->
<path class="q" style="stroke-width:0.9" d="M596 604.1 C598 602.5 600 601.5 601.9 601.1 C608 600 614 599.3 619.9 599.3 C626 599.5 632 600.2 637.8 601.1 L655.7 604.7 L670 608.3 M598.4 605.9 C605 603.5 612 602.3 619.9 602.3 C626 602.5 632 603 637.8 603.5 L670 610.7 M601.9 607.7 C608 606.8 614 606.5 619.9 606.5 L637.8 608.3 L670 616 M617.5 612.5 L631.8 613.7 L656.9 620.8 L670 622 M617.5 602.9 L617.5 610.7 M635.4 601.7 L635.4 611.9 M656 606 L658 621 M646.1 625.6 C650 622 653 620 656.9 618.4 M622 604 L622 610 M626 603 L627 609"/>
<!-- bracket -->
<path class="p" style="stroke-width:1.2" d="M542.4 596.9 L559.4 595 L565.1 601.2 L573.6 606.9 L570.8 616.8 L562.2 622.5 L553.7 618.2 L548.1 609.7 L543.8 601.2Z"/>
<g class="q" style="stroke-width:0.85">
<path d="M544 599 L558 597.5 M549 600 L552 598 L556 598.5 L554 601 M556 598.5 L562 603 L566 606 M548.1 609.7 L556 606 L563 608 L571 610 M553.7 618.2 L557 611 L562 612 L564 618 M551 604 L556 602 L561 604 M566 606 L570 612"/>
</g>
<path class="f" d="M544 605 L547.5 605.5 L547.5 609 L544.5 608Z M561 603 L566 604 L567.5 608 L563 608.5Z M566 612 L571 612 L570 616 L566 617Z M555 611 L559 612 L558 615 L555 614Z"/>
<!-- beam -->
<path class="p" style="stroke-width:1.1" d="M565.1 615.4 L573.6 606.9 L592.4 606.5 L670 640 L670 683.4 L565.1 623.9Z"/>
<g class="q" style="stroke-width:0.9">
<path d="M568 618.5 L670 668 M566 621 L670 675.5 M592.4 609.5 L670 644.5 M582.1 622.5 L589.2 626 L589.2 631 L582.1 627.5Z M633.1 650.8 L644.5 656 L644.5 660.8 L633.1 655.5Z M653 663.6 L661.5 667.5 L661.5 672.1 L653 668Z M602 619 L603 635 M620 628 L621 645"/>
</g>
<path style="stroke:#111;stroke-width:1.9;fill:none" d="M567 616.5 L670 664"/>
<path style="stroke:#111;stroke-width:1.5;fill:none" d="M592.4 606.8 L670 640.5"/>
<path style="fill:#fff;stroke:#111;stroke-width:1.2" d="M586.5 606 L592 604.5 L598 606 L600 610 L597 615 L590 618 L586.6 616.9 L584 611Z"/>
<path class="f" d="M588 607 L593 606 L595.5 609 L592 612 L588.5 611Z M590 614 L596 612 L596.5 615.5 L591 617Z"/>
<path class="q" style="stroke-width:0.9" d="M566 603.5 L569.5 607 L572.2 610.6 L574 614.2 L580.3 616 L586.6 616.9 M564 600.5 L572 607.9"/>
<path class="f" d="M608 622.5 L610.5 617.5 L614.5 618.5 L615 623Z M612.7 635 L614.5 630.5 L617.5 632 L617.5 635.5Z M633 636.5 L637 630.5 L641.3 632 L639 637.5Z M659.5 647 L661.5 643 L664 647.5Z M583.5 623.5 L587.5 625.5 L587.5 629 L583.5 627Z M636 652.5 L641 655 L641 658 L636 655.5Z M655 665 L659 667 L659 670 L655 668Z M575 609 L580 608.5 L582 612 L576 612.5Z"/>
<!-- floor line -->
<path class="q" style="stroke-width:0.9" d="M619 690 L644.5 675 L670 679.2"/>
<!-- left shape -->
<path class="p" style="stroke-width:1.4" d="M493.7 690 L507.9 651.9 L510.4 649.4 L525.4 641.4 L538 648.5 L545.5 661.1 L543 673.6 L542.2 690Z"/>
<g class="q" style="stroke-width:0.9">
<path d="M510.4 650.2 L517.9 650.2 L527.1 644.4 L536.3 651.9 L543.8 662.8 M517.9 650.2 L520.4 661.1 M527.1 644.4 L529.6 656.9 L530.5 664.4 L535.5 674.5 L538 690 M530.5 656.9 L543 662.8 M504.5 676.1 L535.5 651.9 M506 679 L537 654.5 M508 681.5 L530 664.5 M499 686 L510.4 672.8 L513 690 M510 673 L522 666 L528 672 L524 690 M516 676 L520 690 M528 678 L532 690 M535.5 674.5 L541 672"/>
</g>
<path class="f" d="M512 674 L517 671 L518.5 676 L514 679Z M520 680 L524 678 L525 684 L521 686Z M528 672 L532 671 L533 676 L529 677Z M503 686 L508 684 L509 689 L504 690Z"/>
<!-- tall shape -->
<path class="p" style="stroke-width:1.4" d="M547.1 690 L546.1 645.4 L547.1 630.1 L549.1 626.1 L554.2 625.6 L557.2 629.1 L562.3 645.4 L570.4 662.6 L577.5 676.8 L581.6 690Z"/>
<g class="q" style="stroke-width:0.9">
<path d="M554.2 629.1 L558.3 650.4 L560.3 662.6 L564.3 690 M560.3 643.3 L573.5 667.7 M559 646.5 L571 668 M548.1 656.5 L563.3 660.6 M549.1 677.8 L565.4 680.9 M548 667 L560 669 M568.4 670.7 L574.5 668 L577 679 L570 682Z M570 673 L574 678 M556 632 L560 646"/>
</g>
<path style="stroke:#111;stroke-width:1.8;fill:none" d="M550.3 629 L551 660 L552.2 690"/>
<path class="f" d="M549 627 L554 626 L553 632 L549.5 632Z M553 655 L556 654.5 L556.5 659 L553.5 659.5Z M556 675 L560 674 L560.5 679 L556.5 679.5Z"/>
</g>
<!-- ===== CENTER VERTICAL LINES ===== -->
<circle class="dot" cx="145" cy="338.5" r="1.5"/>

<g class="k" style="stroke-width:0.95">
<path style="stroke-dasharray:28.5 2 4 2" d="M333.4 318 L339.3 440 L342 533"/>
<path style="stroke-dasharray:26.5 2 4 2" d="M349.4 310 L352.5 375 L353.5 407.6 M353.5 424 L354 452.8"/>
<path style="stroke-dasharray:18 2 3 2" d="M378.9 289 L380.3 346.7"/>
<path style="stroke-dasharray:40 3 5 3" d="M342.8 548 L345 600 L348 646"/>
</g>
<!-- ===== LEADERS ===== -->
<g class="l">
<path d="M278.5 48.5H283"/>
<path d="M275 66.5H281"/>
<path d="M219 74.5H227.6"/>
<path d="M246 94.5H250"/>
<path d="M314.5 84V92"/>
<path d="M294.5 105V130.7"/>
<path d="M366.5 89V124"/>
<path d="M345.5 111.6V122"/>
<path d="M330 156.5H336"/>
<path d="M363.5 129.3V179.6"/>
<path d="M395 142.5H412.5"/>
<path d="M395 162.5H408"/>
<path d="M456.5 68.5V91"/>
<path d="M563.5 85.8V109.4"/>
<path d="M480.5 132.5V170.7"/>
<path d="M554.5 170V201.5"/>
<path d="M442.4 218.5H498.5"/>
<path d="M387.5 191.5V219"/>
<path d="M374.5 217.8V228.5"/>
<path d="M396.5 241.6V260.7"/>
<path d="M413.5 253.6V271.5"/>
<path d="M429.3 248.5H462.7"/>
<path d="M183.5 137.9V174.8"/>
<path d="M240.5 213.3V241.5"/>
<path d="M222.5 233V262"/>
<path d="M304 209V262"/>
<path d="M200.5 295V326"/>
<path d="M127.4 338.5H139"/>
<path d="M155.5 376.3V432.5"/>
<path d="M380.5 354V365"/>
<path d="M292 404.5H332.7"/>
<path d="M407.5 316.5V339.2"/>
<path d="M421.5 327.2V342"/>
<path d="M440.5 340.4V357"/>
<path d="M495.3 357.5H529.9"/>
<path d="M381.8 464H415.7"/>
<path d="M387.5 515.5H441.6"/>
<path d="M281.5 594V637"/>
<path d="M381 614.5H385.6"/>
<path d="M369.7 648.5H375"/>
<path d="M368.5 660.5H375"/>
<path d="M324.3 667.5H335"/>
</g>
<g class="k" style="stroke:#383838">
<path d="M254.3 48.5H278.5"/>
<path d="M261.5 66.5V80.3 M261.5 66.5H275"/>
<path d="M227.6 74.5H243"/>
<path d="M250 94.5H262.5 M262.5 80.3V94.5"/>
<path d="M314.5 92V98.4"/>
<path d="M345.5 122V132.5"/>
<path d="M336 156.5H346.5 M346.5 136.5V156.5"/>

<path d="M376.5 142.5H395 M376.5 142.5V149"/>
<path d="M384.7 162.5H395"/>
<path d="M139 338.5H145 M145 338.5V358.7"/>
<path d="M359.5 591V614.5H381"/>
<path d="M356 648.5H369.7"/>
<path d="M352.5 652V660.5H368.5"/>
<path d="M335 667.5H342.5 M342.5 655.5V667.5"/>
</g>
<path class="k" d="M380.5 346V354.5"/>
<circle class="dot" cx="380.5" cy="346.4" r="1.8"/>
</svg>
</body></html>
